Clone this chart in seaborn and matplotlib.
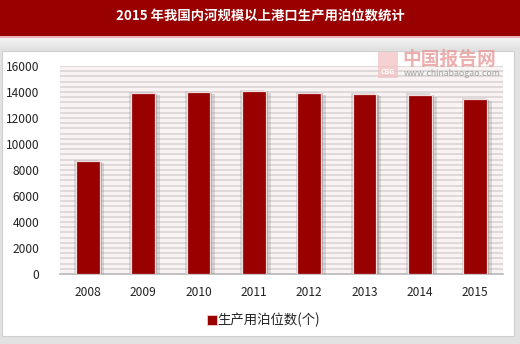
import matplotlib
matplotlib.use("Agg")
import matplotlib.pyplot as plt
import matplotlib.patheffects as pe
from matplotlib.patches import Rectangle
from matplotlib.lines import Line2D
import numpy as np
import pandas as pd
import seaborn as sns

# Inland river ports above designated size: productive berths
years = ["2008", "2009", "2010", "2011", "2012", "2013", "2014", "2015"]
berths = [8700, 13900, 14000, 14100, 13950, 13850, 13800, 13450]
y_ticks = [0, 2000, 4000, 6000, 8000, 10000, 12000, 14000, 16000]

title = "2015 年我国内河规模以上港口生产用泊位数统计"
series_name = "生产用泊位数(个)"

sns.set_theme(style="white")
plt.rcParams["font.family"] = ["Noto Sans CJK SC", "DejaVu Sans"]

BAR_RED = "#990000"

fig = plt.figure(figsize=(5.2, 3.44), dpi=100, facecolor="#dcdcdc")

# page frame: title band, grey shadow strip, white panel
fig.patches.append(Rectangle((0, 0), 1, 1, transform=fig.transFigure,
                             facecolor="#e2e2e2", edgecolor="none", zorder=-10))
for i in range(12):
    s = i / 11
    y0 = 1 - (39 + i) / 344
    fig.patches.append(Rectangle((0, y0), 1, 1 / 344, transform=fig.transFigure,
                                 facecolor=(0.95 - 0.07 * s,) * 3, edgecolor="none", zorder=-9))
fig.patches.append(Rectangle((2 / 520, 1 - 336 / 344), 512 / 520, 285 / 344,
                             transform=fig.transFigure, facecolor="white",
                             edgecolor="#cfcfcf", linewidth=0.8, zorder=-8))
fig.patches.append(Rectangle((0, 1 - 36 / 344), 1, 36 / 344, transform=fig.transFigure,
                             facecolor=BAR_RED, edgecolor="none", zorder=-7))
fig.patches.append(Rectangle((0, 1 - 38 / 344), 1, 2 / 344, transform=fig.transFigure,
                             facecolor="#e9b4b4", edgecolor="none", zorder=-7))
fig.text(0.5, 1 - 17 / 344, title, ha="center", va="center", color="white",
         fontsize=9.6, fontweight="bold")

ax = fig.add_axes([60 / 520, 1 - 274 / 344, 443 / 520, 208 / 344])
ax.set_facecolor("#f9f3f3")

df = pd.DataFrame({"year": years, "berths": berths})
sns.barplot(data=df, x="year", y="berths", color=BAR_RED, width=0.43,
            edgecolor="#f3dede", linewidth=0.9, saturation=1, ax=ax, zorder=3)

for bar in ax.patches:
    bar.set_path_effects([
        pe.SimplePatchShadow(offset=(3.5, -1.5), shadow_rgbFace="#8a8a8a", alpha=0.28),
        pe.SimplePatchShadow(offset=(1.5, -0.5), shadow_rgbFace="#6a6a6a", alpha=0.38),
        pe.SimplePatchShadow(offset=(-1.2, 0.8), shadow_rgbFace="#9a9a9a", alpha=0.3),
        pe.Normal(),
    ])

# dense horizontal grid
for v in np.arange(400, 16001, 400):
    ax.axhline(v, color="#d8d2d2", linewidth=1.1, zorder=1)

ax.set_xlim(-0.5, len(years) - 0.5)
ax.set_ylim(0, 16000)
ax.set_yticks(y_ticks)
ax.set_yticklabels([str(t) for t in y_ticks])
ax.set_xlabel("")
ax.set_ylabel("")
ax.tick_params(axis="both", length=0, colors="#222222")
ax.tick_params(axis="y", labelsize=8.6, pad=15)
ax.tick_params(axis="x", labelsize=8.6, pad=9)
for side in ("top", "right", "left"):
    ax.spines[side].set_visible(False)
ax.spines["bottom"].set_color("#b8b8b8")
ax.spines["bottom"].set_linewidth(1.2)

handle = Line2D([], [], marker="s", linestyle="none", markersize=6.5,
                markerfacecolor=BAR_RED, markeredgecolor="#f0d0d0", markeredgewidth=0.6)
fig.legend([handle], [series_name], loc="center", bbox_to_anchor=(263 / 520, 1 - 320 / 344),
           frameon=False, fontsize=9.6, handletextpad=0.0, handlelength=0.8,
           labelcolor="#222222")

# site watermark
fig.patches.append(Rectangle((378 / 520, 1 - 78 / 344), 20 / 520, 26 / 344,
                             transform=fig.transFigure, facecolor="#f2c2c2",
                             edgecolor="none", alpha=0.75, zorder=5))
fig.text(388 / 520, 1 - 72 / 344, "CBG", ha="center", va="center", fontsize=5,
         color="white", fontweight="bold", zorder=6)
fig.text(402 / 520, 1 - 59 / 344, "中国报告网", ha="left", va="center", fontsize=13.5,
         color="#e99a9a", fontweight="bold", alpha=0.8, zorder=6)
fig.text(404 / 520, 1 - 74 / 344, "www.chinabaogao.com", ha="left", va="center",
         fontsize=6.3, color="#a0a0a0", zorder=6)

fig.savefig("out.png", dpi=100, facecolor=fig.get_facecolor())
